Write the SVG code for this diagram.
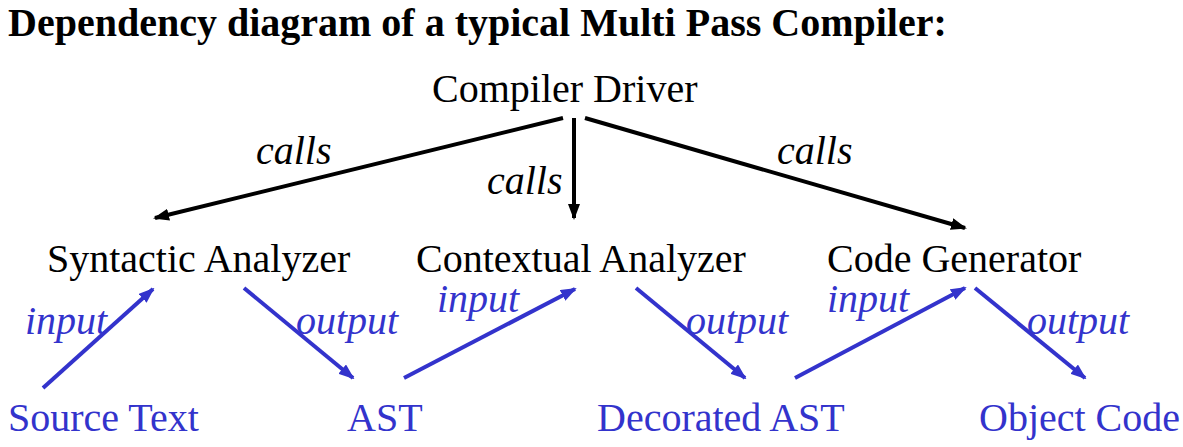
<svg xmlns="http://www.w3.org/2000/svg" width="1183" height="447" viewBox="0 0 1183 447">
<style>
text{font-family:"Liberation Serif","Times New Roman",Times,"DejaVu Serif",serif;}
.title{font-size:40px;font-weight:bold;fill:#000;}
.node{font-size:40px;fill:#000;}
.data{font-size:40px;fill:#3333CC;}
.lbl{font-size:40px;font-style:italic;fill:#000;}
.blbl{font-size:40px;font-style:italic;fill:#3333CC;}
.bk{stroke:#000;stroke-width:4;fill:none;marker-end:url(#ab);}
.bl{stroke:#3333CC;stroke-width:4;fill:none;marker-end:url(#au);}
</style>
<defs>
<marker id="ab" markerUnits="userSpaceOnUse" viewBox="0 0 16 12" refX="14" refY="6" markerWidth="16" markerHeight="12" orient="auto">
<path d="M0,0 L16,6 L0,12 z" fill="#000"/>
</marker>
<marker id="au" markerUnits="userSpaceOnUse" viewBox="0 0 16 12" refX="14" refY="6" markerWidth="16" markerHeight="12" orient="auto">
<path d="M0,0 L16,6 L0,12 z" fill="#3333CC"/>
</marker>
</defs>
<rect width="1183" height="447" fill="#fff"/>
<text class="title" x="8" y="36">Dependency diagram of a typical Multi Pass Compiler:</text>
<g id="connectors">
<line class="bk" x1="563" y1="118" x2="155" y2="218"/>
<line class="bk" x1="574" y1="118" x2="574" y2="218"/>
<line class="bk" x1="585" y1="118" x2="965" y2="228"/>
<line class="bl" x1="43" y1="388" x2="153" y2="289"/>
<line class="bl" x1="244" y1="288" x2="353" y2="378"/>
<line class="bl" x1="404" y1="378" x2="575" y2="289"/>
<line class="bl" x1="636" y1="288" x2="745" y2="378"/>
<line class="bl" x1="795" y1="378" x2="965" y2="288"/>
<line class="bl" x1="975" y1="288" x2="1085" y2="378"/>
<text class="lbl" x="256" y="164">calls</text>
<text class="lbl" x="487" y="194">calls</text>
<text class="lbl" x="777" y="164">calls</text>
<text class="blbl" x="25" y="334">input</text>
<text class="blbl" x="296" y="334">output</text>
<text class="blbl" x="437" y="312">input</text>
<text class="blbl" x="686" y="334">output</text>
<text class="blbl" x="827" y="312">input</text>
<text class="blbl" x="1027" y="334">output</text>
</g>
<g id="compiler-driver"><text class="node" x="432" y="102">Compiler Driver</text></g>
<g id="syntactic-analyzer"><text class="node" x="47" y="272">Syntactic Analyzer</text></g>
<g id="contextual-analyzer"><text class="node" x="416" y="272">Contextual Analyzer</text></g>
<g id="code-generator"><text class="node" x="827" y="272">Code Generator</text></g>
<g id="source-text"><text class="data" x="8" y="431">Source Text</text></g>
<g id="ast"><text class="data" x="347" y="431">AST</text></g>
<g id="decorated-ast"><text class="data" x="597" y="431">Decorated AST</text></g>
<g id="object-code"><text class="data" x="979" y="431">Object Code</text></g>
</svg>
